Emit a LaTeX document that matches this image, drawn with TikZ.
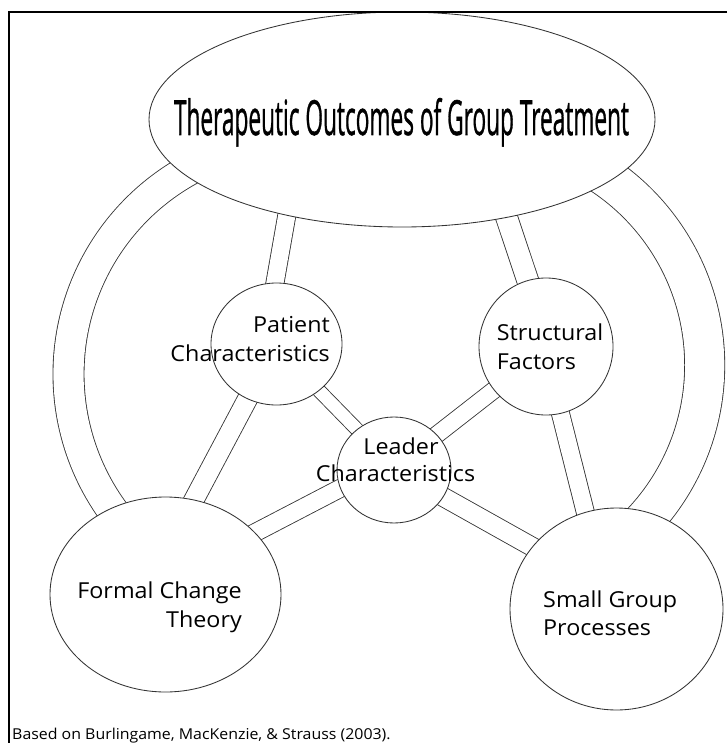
\documentclass[tikz,border=0pt]{standalone}
\usepackage{fontspec}
\setmainfont[FakeStretch=1.06]{Open Sans}
\newfontfamily\titlefont[FakeBold=1.2]{Open Sans}
\usetikzlibrary{shapes.geometric,calc}
\pgfdeclarelayer{bg}
\pgfsetlayers{bg,main}
\begin{document}
\begin{tikzpicture}[x=1pt,y=-1pt,
  blob/.style={ellipse,draw=black!80,line width=0.85pt,fill=white,inner sep=0pt},
  conn/.style={draw=black!80,line width=0.85pt,double=white},
  lbl/.style={inner sep=0pt,font=\fontsize{22}{26}\selectfont,text=black}]
\useasboundingbox (0,0) rectangle (727,743);
% shapes
\node[blob,minimum width=506pt,minimum height=215pt] (T) at (402,119.5) {};
\node[blob,minimum width=131pt,minimum height=122pt] (P) at (276.5,344) {};
\node[blob,minimum width=134pt,minimum height=137pt] (S) at (546,346.5) {};
\node[blob,minimum width=114pt,minimum height=106pt] (L) at (394,470) {};
\node[blob,minimum width=231pt,minimum height=195pt] (F) at (165.5,594.5) {};
\node[blob,minimum width=213pt,minimum height=202pt] (G) at (616.5,609) {};
\coordinate (LC) at (301.7,374.1);
\coordinate (RC) at (475.6,365.3);
% connectors
\begin{pgfonlayer}{bg}
\draw[conn,double distance=17.2pt] ($(T.center)+(-112.4,80)$) -- ($(P.center)+(-4.2,-46)$);
\draw[conn,double distance=21.2pt] ($(T.center)+(-10,80)$) -- ($(L.center)+(-2,-30)$);
\draw[conn,double distance=21pt] ($(T.center)+(99.7,83.3)$) -- ($(S.center)+(-11.6,-46)$);
\draw[conn,double distance=12.7pt] ($(P.center)+(31,34.8)$) -- ($(L.center)+(-27.5,-30.8)$);
\draw[conn,double distance=16.2pt] ($(S.center)+(-40.2,34.3)$) -- ($(L.center)+(31.2,-26.3)$);
\draw[conn,double distance=19.2pt] ($(P.center)+(-22.5,42.7)$) -- ($(F.center)+(20,-78.7)$);
\draw[conn,double distance=17.2pt] ($(S.center)+(11.2,54)$) -- ($(G.center)+(-27.7,-83)$);
\draw[conn,double distance=17.2pt] ($(L.center)+(-42.7,12.6)$) -- ($(F.center)+(74.7,-54.1)$);
\draw[conn,double distance=18.2pt] ($(L.center)+(35.4,19.2)$) -- ($(G.center)+(-74.4,-56.7)$);
\draw[conn,double distance=31.2pt] ($(F.center)+(94.5,17.5)$) -- ($(G.center)+(-86.5,3)$);
\draw[conn,double distance=30.2pt] ($(LC)+(-115:233.2)$) arc[start angle=-115,end angle=-220,radius=233.2];
\draw[conn,double distance=39.2pt] ($(RC)+(-60:229.1)$) arc[start angle=-60,end angle=45,radius=229.1];
\end{pgfonlayer}
% texts
\node[inner sep=0pt,anchor=base,text=black] (Tt) at (401.5,135)
  {\resizebox{455pt}{37pt}{\titlefont Therapeutic Outcomes of Group Treatment}};
\node[lbl,anchor=base east] (Pt1) at (330,332) {Patient};
\node[lbl,anchor=base east] (Pt2) at (330,361) {Characteristics};
\node[lbl,anchor=base west] (St1) at (496.7,340.5) {Structural};
\node[lbl,anchor=base west] (St2) at (496.7,369.5) {Factors};
\node[lbl,anchor=base] (Lt1) at (401,454) {Leader};
\node[lbl,anchor=base] (Lt2) at (395.5,481.7) {Characteristics};
\node[lbl,anchor=base east] (Ft1) at (242,598) {Formal Change};
\node[lbl,anchor=base east] (Ft2) at (242,627) {Theory};
\node[lbl,anchor=base west] (Gt1) at (543,607) {Small Group};
\node[lbl,anchor=base west] (Gt2) at (543,635) {Processes};
\node[inner sep=0pt,anchor=base west,font=\fontsize{15}{18}\selectfont,text=black] (foot) at (12,739)
  {Based on Burlingame, MacKenzie, \& Strauss (2003).};
% frame
\draw[line width=2pt,black] (727,12) -- (9,12) -- (9,743);
\end{tikzpicture}
\end{document}
